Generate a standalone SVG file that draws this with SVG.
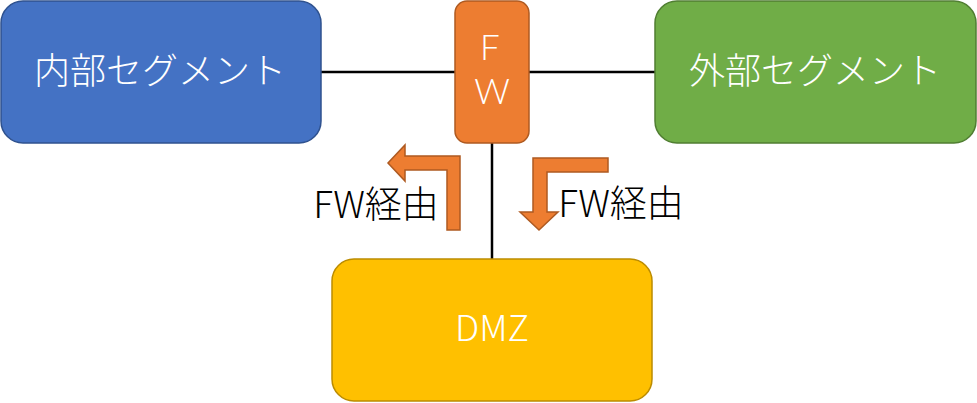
<svg xmlns="http://www.w3.org/2000/svg" width="977" height="403" viewBox="0 0 977 403">
<style>
text{font-family:"Noto Sans CJK JP","Noto Sans",sans-serif;font-size:36px;font-weight:300;text-anchor:middle;dominant-baseline:central}
.w{fill:#fff}
.k{fill:#000;font-size:37px}
.fwl{font-family:Lato,"Noto Sans",sans-serif;font-size:35px}
.box{stroke-width:1.5}
.conn{stroke:#000;stroke-width:2.5;fill:none}
.arr{fill:#ED7D31;stroke:#AE5A21;stroke-width:1.5}
</style>
<rect width="977" height="403" fill="#fff"/>
<g id="connectors">
<line class="conn" x1="321" y1="72" x2="455" y2="72"/>
<line class="conn" x1="529" y1="72" x2="655" y2="72"/>
<line class="conn" x1="492" y1="143" x2="492" y2="259"/>
</g>
<g id="internal">
<rect class="box" x="1" y="1" width="320" height="142" rx="22" fill="#4472C4" stroke="#2F528F"/>
<text class="w" x="160" y="68">内部セグメント</text>
</g>
<g id="fw">
<rect class="box" x="455" y="1" width="74" height="142" rx="12" fill="#ED7D31" stroke="#AE5A21"/>
<text class="w fwl" x="490" y="46">F</text>
<text class="w fwl" x="492" y="90">W</text>
</g>
<g id="external">
<rect class="box" x="655" y="1" width="321" height="142" rx="22" fill="#70AD47" stroke="#507E32"/>
<text class="w" x="815" y="68">外部セグメント</text>
</g>
<g id="dmz">
<rect class="box" x="332" y="259" width="320" height="142" rx="22" fill="#FFC000" stroke="#BC8C00"/>
<text class="w" x="492" y="325">DMZ</text>
</g>
<g id="arrow-left">
<path class="arr" d="M460,230 L447,230 L447,170 L405,170 L405,181 L388,163 L405,145 L405,156 L460,156 Z"/>
<text class="k" x="376" y="202">FW経由</text>
</g>
<g id="arrow-right">
<path class="arr" d="M608,158 L608,172 L547,172 L547,212 L558,212 L539,230 L520,212 L533,212 L533,158 Z"/>
<text class="k" x="621" y="201">FW経由</text>
</g>
</svg>
